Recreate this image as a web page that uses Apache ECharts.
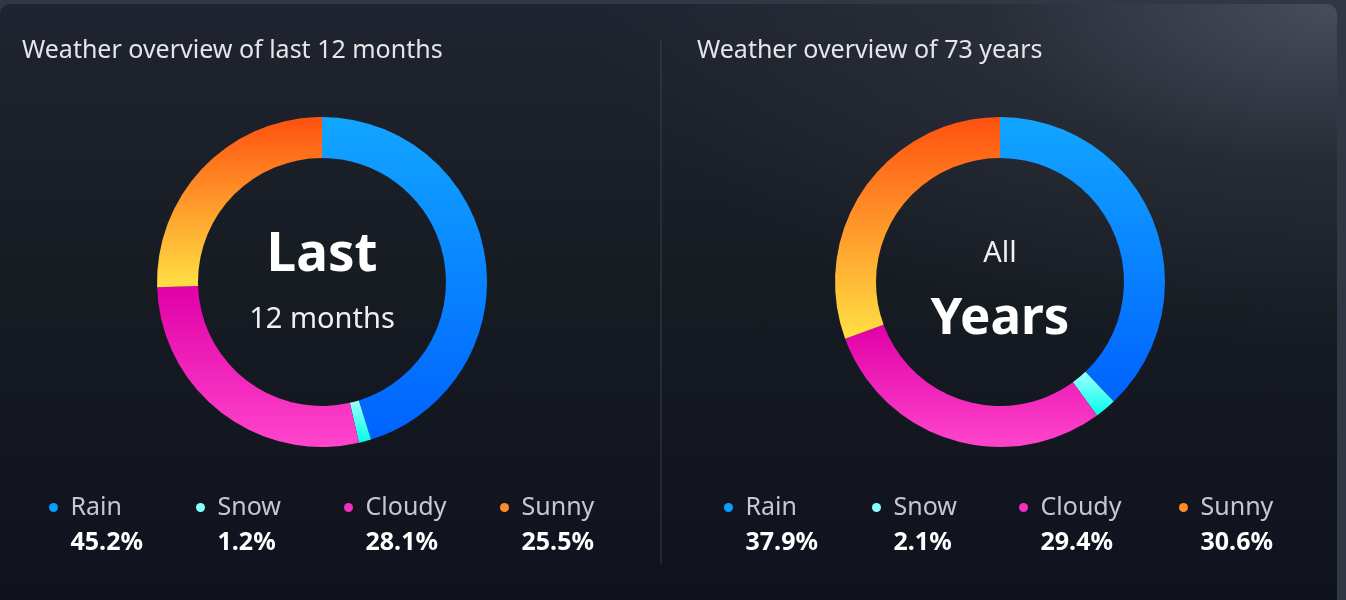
<!DOCTYPE html>
<html lang="en">
<head>
    <meta charset="UTF-8">
    <title>Weather overview</title>
    <style type="text/css">
        * {
            margin: 0;
            padding: 0;
        }

        html, body {
            width: 100%;
            height: 100%;
            overflow: hidden;
            background: #323843;
        }

        #panel {
            position: absolute;
            left: 0;
            top: 4px;
            width: 1337px;
            height: 610px;
            border-radius: 10px;
            background:
                radial-gradient(ellipse 1000px 460px at 100% 0%, rgba(74, 79, 94, 0.95) 0%, rgba(46, 51, 61, 0.6) 35%, rgba(25, 28, 36, 0) 75%),
                linear-gradient(180deg, #1f2430 0%, #171b22 45%, #0f121d 100%);
        }

        #chart-panel {
            position: absolute;
            left: 0;
            top: 0;
            width: 1346px;
            height: 600px;
        }
    </style>
</head>
<body>

<div id="panel"></div>
<div id="chart-panel"></div>

<script src="https://cdn.jsdelivr.net/npm/echarts@6/dist/echarts.min.js"></script>
<script>
    var myChart = echarts.init(document.getElementById('chart-panel'), null, {renderer: 'canvas'});

    // data
    const categories = ['Rain', 'Snow', 'Cloudy', 'Sunny'];
    const last12Months = [45.2, 1.2, 28.1, 25.5];
    const allYears = [37.9, 2.1, 29.4, 30.6];

    // styles
    const font = "'Segoe UI', 'Noto Sans', sans-serif";
    const gradients = [
        ['#12a6ff', '#0062ff'],
        ['#a0ffff', '#00ffe6'],
        ['#e000a8', '#ff45cc'],
        ['#ff5010', '#ffe044']
    ];
    const dotColors = ['#0a9cff', '#88ffff', '#f030c0', '#ff8c28'];

    // layout: pie centres and legend dot x positions
    const panels = [
        {title: 'Weather overview of last 12 months', titleX: 22, cx: 322, values: last12Months,
         dots: [54, 201, 349, 505]},
        {title: 'Weather overview of 73 years', titleX: 697, cx: 1000, values: allYears,
         dots: [729, 877, 1024, 1184]}
    ];

    const makeData = values => categories.map((name, i) => ({
        name: name,
        value: values[i],
        itemStyle: {
            color: new echarts.graphic.LinearGradient(0, 0, 0, 1, [
                {offset: 0, color: gradients[i][0]},
                {offset: 1, color: gradients[i][1]}
            ])
        }
    }));

    let legends = [];
    panels.forEach(p => {
        categories.forEach((name, i) => {
            // name line with dot
            legends.push({
                left: p.dots[i] - 10,
                top: 490,
                icon: 'circle',
                itemWidth: 24,
                itemHeight: 9,
                itemGap: 0,
                selectedMode: false,
                data: [{name: name, itemStyle: {color: dotColors[i]}}],
                textStyle: {color: '#c5c8ce', fontSize: 25, fontFamily: font}
            });
            // value line
            legends.push({
                left: p.dots[i] - 10,
                top: 525,
                icon: 'circle',
                itemWidth: 24,
                itemHeight: 9,
                selectedMode: false,
                data: [{name: name, itemStyle: {color: 'rgba(0,0,0,0)'}}],
                formatter: () => p.values[i].toFixed(1) + '%',
                textStyle: {color: '#ffffff', fontSize: 25, fontWeight: 'bold', fontFamily: font}
            });
        });
    });

    var option = {
        animation: false,
        title: panels.map(p => ({
            text: p.title,
            left: p.titleX,
            top: 38,
            padding: 0,
            textStyle: {color: '#e4e6e8', fontSize: 25, fontWeight: 'normal', fontFamily: font}
        })),
        legend: legends,
        graphic: [
            {
                type: 'line',
                shape: {x1: 661, y1: 40, x2: 661, y2: 564},
                style: {stroke: '#3a3f47', lineWidth: 1}
            },
            {
                type: 'text', x: 322, y: 256,
                style: {text: 'Last', fill: '#ffffff', font: 'bold 53px ' + font, align: 'center', verticalAlign: 'middle'}
            },
            {
                type: 'text', x: 322, y: 320,
                style: {text: '12 months', fill: '#f0f0f0', font: '29px ' + font, align: 'center', verticalAlign: 'middle'}
            },
            {
                type: 'text', x: 1000, y: 254,
                style: {text: 'All', fill: '#f0f0f0', font: '29px ' + font, align: 'center', verticalAlign: 'middle'}
            },
            {
                type: 'text', x: 1000, y: 319,
                style: {text: 'Years', fill: '#ffffff', font: 'bold 51px ' + font, align: 'center', verticalAlign: 'middle'}
            }
        ],
        series: panels.map(p => ({
            type: 'pie',
            center: [p.cx, 282],
            radius: [124, 165],
            startAngle: 90,
            clockwise: true,
            label: {show: false},
            labelLine: {show: false},
            emphasis: {disabled: true},
            data: makeData(p.values)
        }))
    };
    myChart.setOption(option);
    window.onresize = () => {
        myChart.resize();
    }
</script>
</body>
</html>
